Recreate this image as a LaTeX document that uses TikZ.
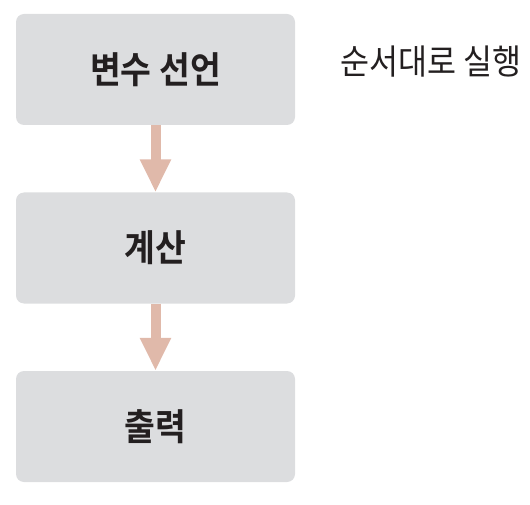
\documentclass[tikz,border=0pt]{standalone}
\usepackage{fontspec}
\setmainfont{Noto Sans CJK KR}[BoldFont={Noto Sans CJK KR Bold}]
\usetikzlibrary{arrows.meta}
\definecolor{boxgray}{RGB}{220,221,223}
\definecolor{arrowpink}{RGB}{224,185,170}
\definecolor{textdark}{RGB}{35,31,32}
\newcommand{\tallt}[1]{\scalebox{1}[1.1]{#1}}
\begin{document}
\begin{tikzpicture}[x=1pt,y=-1pt,
  stepbox/.style={fill=boxgray,rounded corners=8pt,minimum width=279pt,minimum height=111pt,inner sep=0pt,text=textdark,font=\fontsize{33.5}{38}\selectfont\bfseries},
  flowarrow/.style={draw=arrowpink,line width=10pt,-{Triangle[width=29pt,length=33pt,fill=arrowpink]}},
  note/.style={text=textdark,font=\fontsize{31.5}{36}\selectfont,inner sep=0pt,anchor=west}]
\useasboundingbox (0,0) rectangle (530,505);
\node[stepbox] (b1) at (155.5,69.5) {\tallt{변수 선언}};
\node[stepbox] (b2) at (155.5,248) {\tallt{계산}};
\node[stepbox] (b3) at (155.5,426.5) {\tallt{출력}};
\draw[flowarrow] (b1.south) -- (b2.north);
\draw[flowarrow] (b2.south) -- (b3.north);
\node[note] (n) at (340,62) {\tallt{순서대로 실행}};
\end{tikzpicture}
\end{document}
